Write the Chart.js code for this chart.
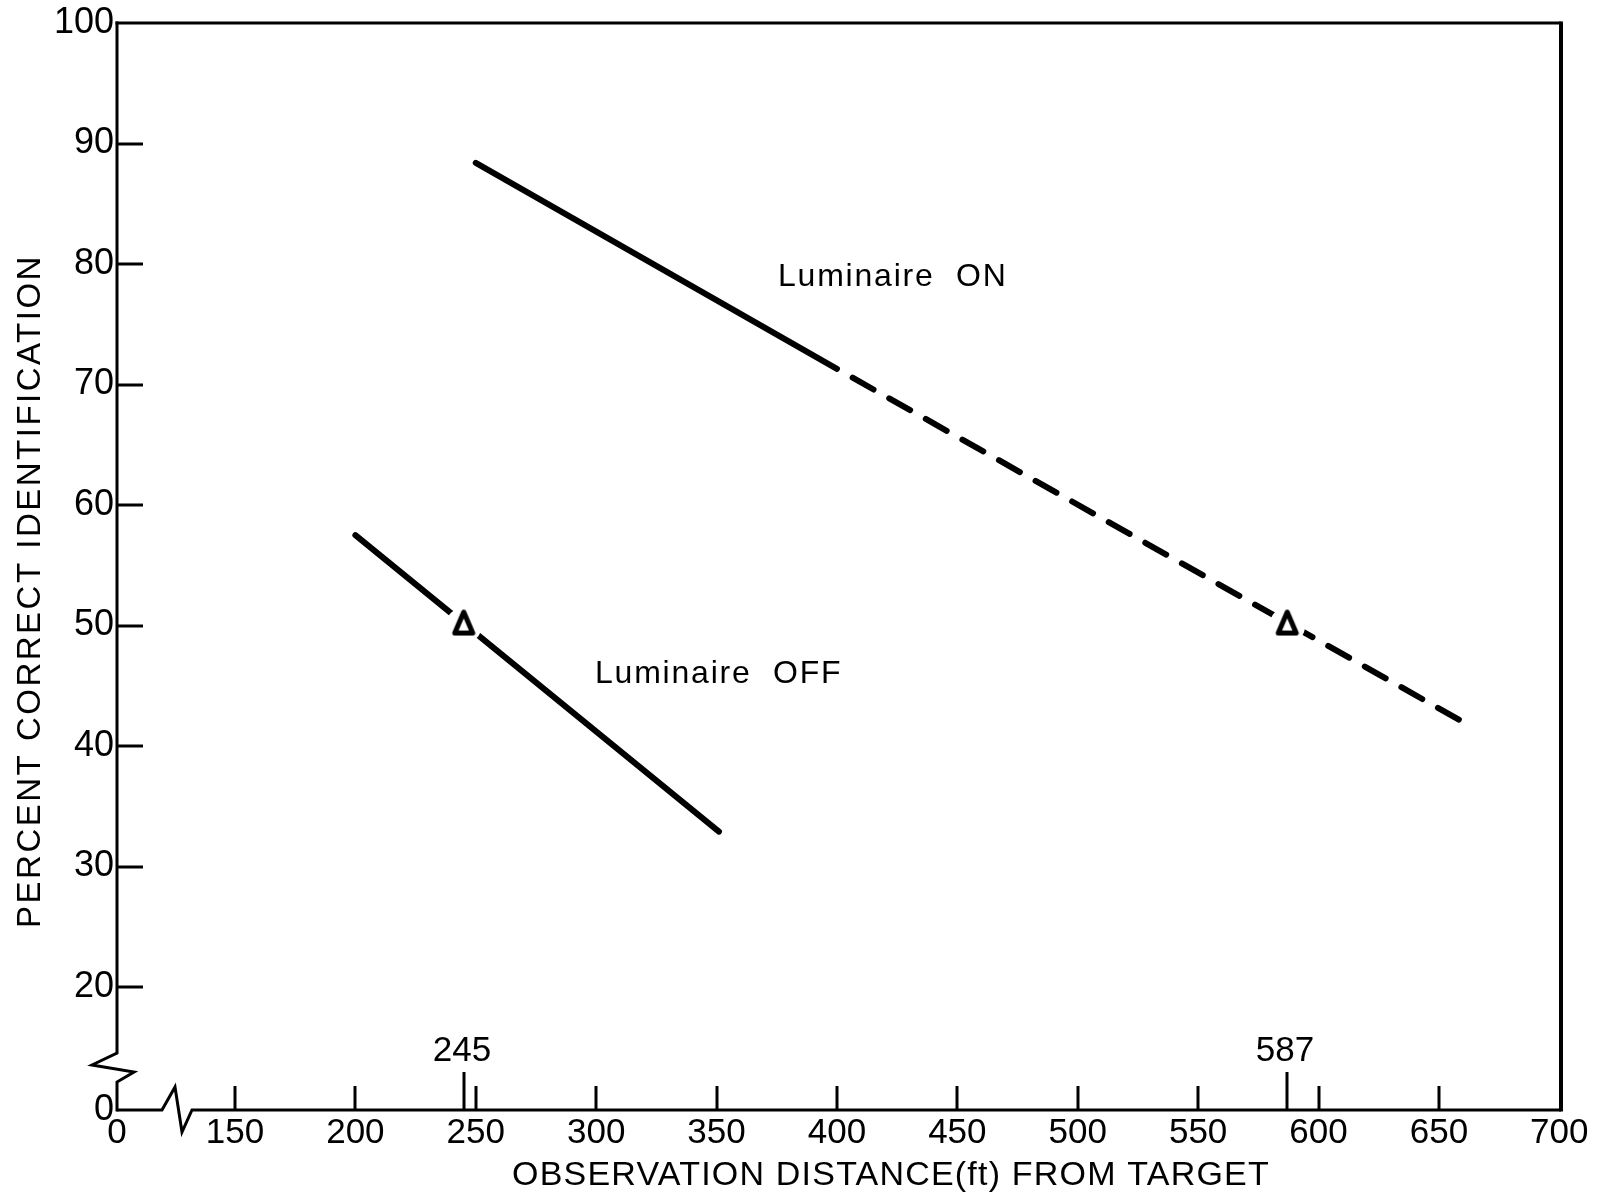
<!DOCTYPE html>
<html>
<head>
<meta charset="utf-8">
<script src="https://cdn.jsdelivr.net/npm/chart.js@4/dist/chart.umd.min.js"></script>
<style>
  html, body { margin: 0; padding: 0; background: #ffffff; }
  #wrap { width: 1616px; height: 1196px; }
</style>
</head>
<body>
<div id="wrap"><canvas id="c" width="1616" height="1196"></canvas></div>
<script>
// ---- data ----
const xTickValues = [150, 200, 250, 300, 350, 400, 450, 500, 550, 600, 650, 700];
const yTickValues = [20, 30, 40, 50, 60, 70, 80, 90, 100];
const xAxisMin = 101.0;   // position of the broken-axis "0"
const xAxisMax = 700.7;
const yAxisMin = 9.8;     // position of the broken-axis "0"
const yAxisMax = 100;

const onSolidX = [250, 400];
const onSolidY = [88.4, 71.3];
const onDashX = [400, 660];
const onDashY = [71.3, 42.0];
const offX = [200, 351];
const offY = [57.5, 32.9];
const markerX = [245, 587];
const markerY = [50, 50];
const markerLabels = ['245', '587'];

const xTitle = 'OBSERVATION DISTANCE(ft) FROM TARGET';
const yTitle = 'PERCENT CORRECT IDENTIFICATION';
const seriesNames = ['Luminaire  ON', 'Luminaire  OFF'];
const seriesLabelX = [375.5, 299.5];
const seriesLabelY = [78.9, 46.0];

const FONT = '"Liberation Sans", Arial, sans-serif';

function pts(xs, ys) { return xs.map((x, i) => ({ x: x, y: ys[i] })); }

function makeTriangle() {
  const c = document.createElement('canvas');
  c.width = 32; c.height = 36;
  const g = c.getContext('2d');
  g.lineWidth = 5;
  g.lineJoin = 'round';
  g.beginPath();
  g.moveTo(16, 4.5);
  g.lineTo(25, 25.5);
  g.lineTo(7, 25.5);
  g.closePath();
  g.fillStyle = '#ffffff';
  g.fill();
  g.strokeStyle = '#000000';
  g.stroke();
  return c;
}
const triangleImg = makeTriangle();

const decor = {
  id: 'decor',
  beforeDatasetsDraw(chart) {
    const ctx = chart.ctx;
    const a = chart.chartArea;
    const xs = chart.scales.x, ys = chart.scales.y;
    ctx.save();
    ctx.strokeStyle = '#000';
    ctx.lineJoin = 'miter';
    ctx.lineCap = 'butt';
    // top
    ctx.lineWidth = 3;
    ctx.beginPath(); ctx.moveTo(a.left - 1.5, a.top); ctx.lineTo(a.right, a.top); ctx.stroke();
    // right
    ctx.lineWidth = 4;
    ctx.beginPath(); ctx.moveTo(a.right, a.top - 1.5); ctx.lineTo(a.right, a.bottom + 1.5); ctx.stroke();
    // bottom with break
    ctx.lineWidth = 3;
    ctx.beginPath();
    ctx.moveTo(a.left, a.bottom);
    ctx.lineTo(a.left + 45, a.bottom);
    ctx.lineTo(a.left + 58, a.bottom - 23);
    ctx.lineTo(a.left + 65, a.bottom + 22);
    ctx.lineTo(a.left + 75, a.bottom);
    ctx.lineTo(a.right, a.bottom);
    ctx.stroke();
    // left with break
    ctx.beginPath();
    ctx.moveTo(a.left, a.top - 1.5);
    ctx.lineTo(a.left, a.bottom - 57);
    ctx.lineTo(a.left - 25, a.bottom - 45);
    ctx.lineTo(a.left + 17, a.bottom - 38);
    ctx.lineTo(a.left, a.bottom - 28);
    ctx.lineTo(a.left, a.bottom + 1.5);
    ctx.stroke();
    // x tick marks (inside)
    ctx.lineWidth = 3;
    xTickValues.forEach(v => {
      if (v >= 700) return;
      const px = Math.round(xs.getPixelForValue(v));
      ctx.beginPath(); ctx.moveTo(px, a.bottom); ctx.lineTo(px, a.bottom - 24); ctx.stroke();
    });
    // y tick marks (inside)
    yTickValues.forEach(v => {
      if (v >= 100) return;
      const py = Math.round(ys.getPixelForValue(v));
      ctx.beginPath(); ctx.moveTo(a.left, py); ctx.lineTo(a.left + 26, py); ctx.stroke();
    });
    // special marker ticks and labels
    ctx.fillStyle = '#000';
    ctx.font = '35px ' + FONT;
    ctx.textAlign = 'center';
    ctx.textBaseline = 'middle';
    markerX.forEach((v, i) => {
      const px = Math.round(xs.getPixelForValue(v));
      ctx.beginPath(); ctx.moveTo(px, a.bottom); ctx.lineTo(px, a.bottom - 38); ctx.stroke();
      ctx.fillText(markerLabels[i], px - 2, a.bottom - 59);
    });
    ctx.restore();
  },
  afterDraw(chart) {
    const ctx = chart.ctx;
    const xs = chart.scales.x, ys = chart.scales.y;
    ctx.save();
    ctx.fillStyle = '#000';
    ctx.textBaseline = 'middle';
    // series labels
    ctx.font = '32px ' + FONT;
    ctx.textAlign = 'left';
    if ('letterSpacing' in ctx) ctx.letterSpacing = '1.8px';
    seriesNames.forEach((t, i) => {
      ctx.fillText(t, xs.getPixelForValue(seriesLabelX[i]), ys.getPixelForValue(seriesLabelY[i]));
    });
    // x title
    ctx.font = '34px ' + FONT;
    ctx.textAlign = 'center';
    if ('letterSpacing' in ctx) ctx.letterSpacing = '1.2px';
    ctx.fillText(xTitle, 891, 1176);
    // y title
    ctx.font = '33px ' + FONT;
    if ('letterSpacing' in ctx) ctx.letterSpacing = '2.5px';
    ctx.translate(31, 591);
    ctx.rotate(-Math.PI / 2);
    ctx.fillText(yTitle, 0, 0);
    ctx.restore();
  }
};

new Chart(document.getElementById('c'), {
  type: 'line',
  data: {
    datasets: [
      {
        label: 'markers',
        data: pts(markerX, markerY),
        showLine: false,
        pointStyle: triangleImg,
        pointRadius: 12,
        order: 0
      },
      {
        label: 'marker gap',
        data: pts(markerX, markerY),
        showLine: false,
        pointStyle: 'circle',
        pointRadius: 18,
        pointBackgroundColor: '#ffffff',
        pointBorderWidth: 0,
        pointBorderColor: '#ffffff',
        order: 1
      },
      {
        label: 'Luminaire ON',
        data: pts(onSolidX, onSolidY),
        borderColor: '#000',
        borderWidth: 6,
        borderCapStyle: 'round',
        pointRadius: 0,
        order: 2
      },
      {
        label: 'Luminaire ON (extrapolated)',
        data: pts(onDashX, onDashY),
        borderColor: '#000',
        borderWidth: 6,
        borderDash: [24, 18],
        borderDashOffset: 24,
        borderCapStyle: 'round',
        pointRadius: 0,
        order: 2
      },
      {
        label: 'Luminaire OFF',
        data: pts(offX, offY),
        borderColor: '#000',
        borderWidth: 6,
        borderCapStyle: 'round',
        pointRadius: 0,
        order: 2
      }
    ]
  },
  options: {
    responsive: false,
    animation: false,
    devicePixelRatio: 1,
    layout: { autoPadding: false, padding: { top: 23, right: 55, left: 0, bottom: 0 } },
    plugins: { legend: { display: false }, tooltip: { enabled: false } },
    scales: {
      x: {
        type: 'linear',
        min: xAxisMin,
        max: xAxisMax,
        grid: { display: false, drawTicks: false },
        border: { display: false },
        afterBuildTicks: s => { s.ticks = [{ value: xAxisMin }].concat(xTickValues.map(v => ({ value: v }))); },
        afterFit: s => { s.height = 86; },
        ticks: {
          autoSkip: false,
          maxRotation: 0,
          padding: 6,
          color: '#000',
          font: { family: FONT, size: 35, lineHeight: 1 },
          callback: v => (v === xAxisMin ? '0' : String(v))
        }
      },
      y: {
        type: 'linear',
        min: yAxisMin,
        max: yAxisMax,
        grid: { display: false, drawTicks: false },
        border: { display: false },
        afterBuildTicks: s => { s.ticks = [{ value: yAxisMin }].concat(yTickValues.map(v => ({ value: v }))); },
        afterFit: s => { s.width = 117; },
        ticks: {
          autoSkip: false,
          padding: 3,
          color: '#000',
          font: { family: FONT, size: 36, lineHeight: 1 },
          callback: v => (v === yAxisMin ? '0' : String(v))
        }
      }
    }
  },
  plugins: [decor]
});
</script>
</body>
</html>
